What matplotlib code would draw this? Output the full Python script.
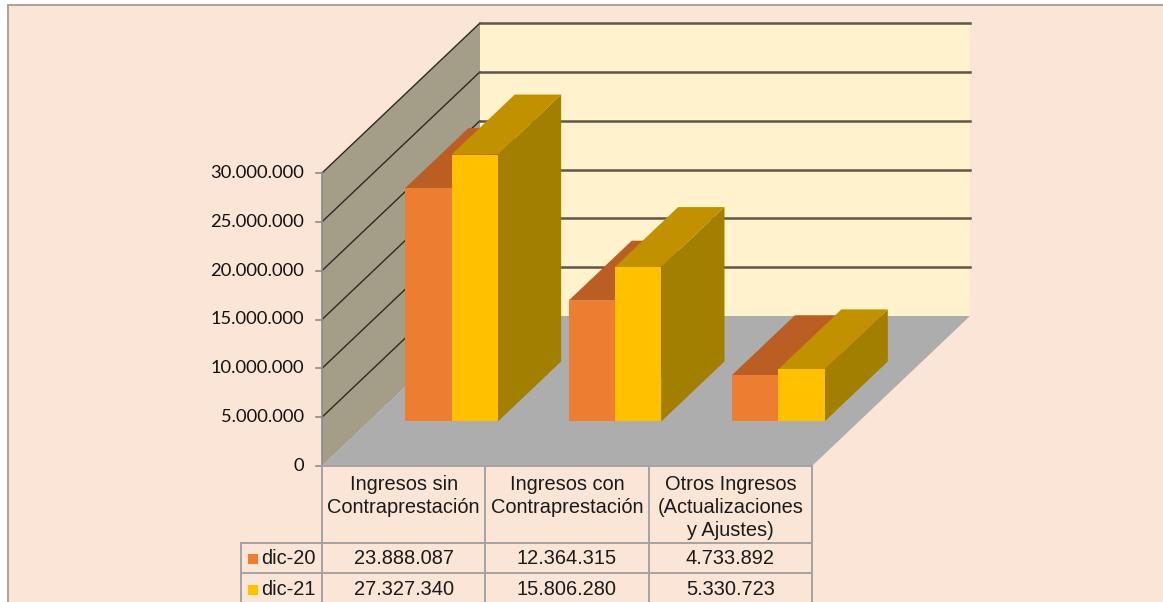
import numpy as np
import matplotlib.pyplot as plt
from matplotlib.patches import Polygon, Rectangle

# data
categories = ['Ingresos sin\nContraprestación',
              'Ingresos con\nContraprestación',
              'Otros Ingresos\n(Actualizaciones\ny Ajustes)']
series_names = ['dic-20', 'dic-21']
dic20 = [23888087, 12364315, 4733892]
dic21 = [27327340, 15806280, 5330723]
y_ticks = [0, 5000000, 10000000, 15000000, 20000000, 25000000, 30000000]

# colours: front, top, side
front_cols = ['#ED7D31', '#FFC000']
top_cols = ['#BA5E23', '#C19100']
side_cols = ['#9E4F1D', '#A37F00']

W, H = 1163, 602
X0, Y0 = 322, 466            # origin of the front plane (pixels)
PX_CAT = 490 / 3             # pixels per category
PX_VAL = 293 / 30e6          # pixels per unit of value
DX, DV = 158 / PX_CAT, 150 / PX_VAL   # full depth offset in data units


def px_x(px):
    return (px - X0) / PX_CAT


def px_y(px):
    return (Y0 - px) / PX_VAL


def proj(x, v, d):
    return (x + d * DX, v + d * DV)


def fmt(v):
    return f'{v:,.0f}'.replace(',', '.')


fig = plt.figure(figsize=(W / 100, H / 100), dpi=100)
fig.patch.set_facecolor('white')
ax = fig.add_axes([0, 0, 1, 1])
ax.set_xlim(px_x(0), px_x(W))
ax.set_ylim(px_y(H), px_y(0))
ax.axis('off')

# chart area background with border
ax.add_patch(Rectangle((8 / W, -0.1), 1.1, 1.1 - 5 / H, transform=fig.transFigure,
                       facecolor='#FBE5D6', edgecolor='#ABA59E', lw=1.5, zorder=0,
                       clip_on=False))

ymax = y_ticks[-1]
ncat = len(categories)

# walls and floor
side = [proj(0, 0, 0), proj(0, ymax, 0), proj(0, ymax, 1), proj(0, 0, 1)]
back = [proj(0, 0, 1), proj(0, ymax, 1), proj(ncat, ymax, 1), proj(ncat, 0, 1)]
floor = [proj(0, 0, 0), proj(ncat, 0, 0), proj(ncat, 0, 1), proj(0, 0, 1)]
ax.add_patch(Polygon(side, closed=True, facecolor='#A49D87', edgecolor='none', zorder=1))
ax.add_patch(Polygon(back, closed=True, facecolor='#FFF2CC', edgecolor='none', zorder=1))
ax.add_patch(Polygon(floor, closed=True, facecolor='#ADADAD', edgecolor='none', zorder=1))

# gridlines
for t in y_ticks[1:]:
    p0, p1, p2 = proj(0, t, 0), proj(0, t, 1), proj(ncat, t, 1)
    ax.plot([p0[0], p1[0]], [p0[1], p1[1]], color='#2E2A22', lw=1.0, zorder=2)
    ax.plot([p1[0], p2[0]], [p1[1], p2[1]], color='#5E5646', lw=1.8, zorder=2)

# value axis
ax.plot([0, 0], [0, ymax], color='#8A8A8A', lw=1.2, zorder=3)
for t in y_ticks:
    ax.plot([px_x(316), 0], [t, t], color='#8A8A8A', lw=1.2, zorder=3)
    ax.text(px_x(304), t, fmt(t), ha='right', va='center', fontsize=13.2,
            family='Lato', color='#111111')

# bars
d0, d1 = 0.297, 0.697
bar_w = 0.284
offset = 0.222
for i in range(ncat):
    for s, vals in enumerate([dic20, dic21]):
        v = vals[i]
        xl = i + offset + s * bar_w
        xr = xl + bar_w
        z = 4 + i * 3 + s
        side_f = [proj(xr, 0, d0), proj(xr, 0, d1), proj(xr, v, d1), proj(xr, v, d0)]
        top_f = [proj(xl, v, d0), proj(xl, v, d1), proj(xr, v, d1), proj(xr, v, d0)]
        front_f = [proj(xl, 0, d0), proj(xl, v, d0), proj(xr, v, d0), proj(xr, 0, d0)]
        ax.add_patch(Polygon(side_f, closed=True, facecolor=side_cols[s], edgecolor='none', zorder=z))
        ax.add_patch(Polygon(top_f, closed=True, facecolor=top_cols[s], edgecolor='none', zorder=z))
        ax.add_patch(Polygon(front_f, closed=True, facecolor=front_cols[s], edgecolor='none', zorder=z))

# data table
line_c = '#A3A3A3'
row_top = [px_y(466), px_y(543), px_y(573), px_y(604)]
leg_x = px_x(241)
ax.plot([0, ncat], [row_top[0]] * 2, color=line_c, lw=1.4, zorder=20)
for r in row_top[1:]:
    ax.plot([leg_x, ncat], [r, r], color=line_c, lw=1.4, zorder=20)
for c in range(ncat + 1):
    ax.plot([c, c], [row_top[0], row_top[-1]], color=line_c, lw=1.4, zorder=20)
ax.plot([leg_x, leg_x], [row_top[1], row_top[-1]], color=line_c, lw=1.4, zorder=20)

tfont = dict(family='Liberation Sans', fontsize=14.4, color='#1A1A1A')
for i, cat in enumerate(categories):
    ax.text(i + 0.5, px_y(475), cat, ha='center', va='top', linespacing=1.26, **tfont)

sq = 10 / PX_CAT
for s, vals in enumerate([dic20, dic21]):
    yc = (row_top[s + 1] + row_top[s + 2]) / 2 - 1 / PX_VAL
    for i, v in enumerate(vals):
        ax.text(i + 0.5, yc, fmt(v), ha='center', va='center', **tfont)
    ax.add_patch(Rectangle((px_x(248), yc - 5 / PX_VAL), sq, 10 / PX_VAL,
                           facecolor=front_cols[s], edgecolor='none', zorder=21))
    ax.text(px_x(261), yc, series_names[s], ha='left', va='center', **tfont)

fig.savefig('out.png', dpi=100)
